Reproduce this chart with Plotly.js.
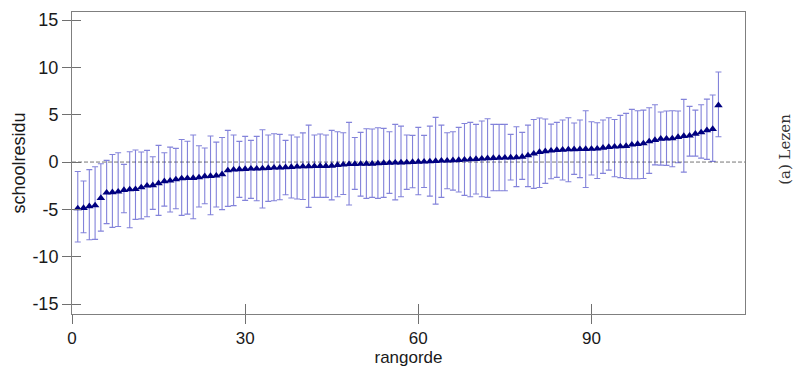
<!DOCTYPE html>
<html>
<head>
<meta charset="utf-8">
<script src="https://cdn.plot.ly/plotly-3.0.1.min.js"></script>
<style>
html,body{margin:0;padding:0;background:#fff;}
#chart{width:796px;height:368px;}
</style>
</head>
<body>
<div id="chart"></div>
<script>
// rank order of schools
var rangorde = [1,2,3,4,5,6,7,8,9,10,11,12,13,14,15,16,17,18,19,20,
21,22,23,24,25,26,27,28,29,30,31,32,33,34,35,36,37,38,39,40,
41,42,43,44,45,46,47,48,49,50,51,52,53,54,55,56,57,58,59,60,
61,62,63,64,65,66,67,68,69,70,71,72,73,74,75,76,77,78,79,80,
81,82,83,84,85,86,87,88,89,90,91,92,93,94,95,96,97,98,99,100,
101,102,103,104,105,106,107,108,109,110,111,112];

// school residual (point estimate)
var residu = [-4.9,-4.86,-4.68,-4.58,-3.8,-3.24,-3.2,-3.13,-2.96,-2.89,
-2.87,-2.68,-2.5,-2.46,-2.25,-2.04,-1.97,-1.83,-1.73,-1.7,
-1.69,-1.62,-1.51,-1.48,-1.44,-1.3,-0.88,-0.81,-0.77,-0.74,
-0.7,-0.7,-0.67,-0.63,-0.6,-0.6,-0.56,-0.53,-0.49,-0.46,
-0.45,-0.44,-0.43,-0.42,-0.4,-0.32,-0.28,-0.22,-0.21,-0.2,
-0.19,-0.18,-0.14,-0.1,-0.09,-0.07,-0.06,-0.04,0.0,0.03,
0.04,0.07,0.1,0.14,0.15,0.18,0.21,0.25,0.28,0.32,
0.35,0.39,0.42,0.43,0.46,0.47,0.49,0.56,0.7,0.88,
1.06,1.13,1.2,1.27,1.3,1.33,1.34,1.36,1.37,1.38,
1.41,1.51,1.58,1.62,1.65,1.69,1.83,1.9,1.97,2.18,
2.32,2.46,2.47,2.5,2.64,2.75,2.78,2.99,3.13,3.35,
3.49,5.99];

// upper bound of interval
var bovengrens = [-1.0,-2.0,-0.8,-0.5,-0.18,0.18,0.8,0.99,-0.25,1.09,
1.27,1.06,1.23,0.56,1.76,0.99,1.58,1.44,2.39,2.2,
2.85,1.73,1.48,2.75,2.11,2.6,3.35,2.85,2.18,2.71,
2.29,2.71,3.42,2.85,2.99,2.92,2.29,2.85,2.64,3.08,
3.9,2.85,2.96,2.85,3.35,3.2,3.1,4.19,2.6,3.13,
3.52,3.49,3.63,3.56,3.2,3.98,3.8,2.85,2.82,3.66,
2.82,3.8,4.72,3.9,3.1,3.2,3.66,4.08,4.19,3.98,
4.33,4.58,3.98,3.98,3.98,2.92,3.73,3.13,3.9,4.5,
4.65,4.54,4.01,4.19,4.44,4.68,4.12,4.44,5.42,4.26,
4.15,4.44,4.68,4.5,4.93,5.14,5.56,5.42,5.49,5.74,
6.05,5.28,5.39,5.42,5.39,6.62,5.88,5.49,6.06,6.65,
7.08,9.51];

// lower bound of interval
var ondergrens = [-8.45,-7.46,-8.2,-8.17,-7.3,-6.5,-6.9,-6.8,-5.35,-6.94,
-6.05,-6.0,-5.77,-5.0,-5.63,-4.65,-5.28,-4.93,-5.63,-5.5,
-5.99,-4.75,-4.4,-5.56,-4.75,-5.03,-4.68,-4.6,-3.73,-4.05,
-3.84,-4.08,-4.86,-4.15,-4.08,-3.98,-3.45,-3.8,-3.9,-3.96,
-4.79,-3.73,-3.73,-3.73,-4.0,-3.66,-3.42,-4.54,-2.89,-3.6,
-3.84,-3.73,-3.84,-3.73,-3.31,-4.0,-3.66,-2.89,-2.71,-3.45,
-2.68,-3.6,-4.44,-3.73,-2.82,-2.96,-3.17,-3.52,-3.66,-3.38,
-3.66,-3.73,-3.03,-3.03,-3.03,-1.9,-2.6,-1.83,-2.6,-2.78,
-2.68,-2.25,-1.76,-1.62,-1.9,-2.08,-1.3,-1.65,-2.68,-1.37,
-1.73,-1.2,-0.85,-1.55,-1.65,-1.73,-1.76,-1.76,-1.73,-1.2,
-0.3,-0.32,-0.35,-0.49,-0.07,-1.06,0.63,0.63,0.42,0.28,
0.07,2.68];

var xTicks = [0,30,60,90];
var yTicks = [-15,-10,-5,0,5,10,15];

var errPlus = bovengrens.map(function(u,i){return u - residu[i];});
var errMinus = ondergrens.map(function(l,i){return residu[i] - l;});

var xr = [0, 116.6];
var yr = [-16.05, 15.85];
var fontFam = 'Liberation Sans, Arial, sans-serif';

var traces = [
  {
    type:'scatter', mode:'markers',
    x: rangorde, y: residu,
    marker:{symbol:'triangle-up', size:7.5, color:'#000080'},
    error_y:{type:'data', symmetric:false, array:errPlus, arrayminus:errMinus,
             color:'rgba(55,55,195,0.62)', thickness:1.1, width:3},
    hoverinfo:'x+y', showlegend:false
  },
  {
    type:'scatter', mode:'markers', x:[], y:[], xaxis:'x2', yaxis:'y2',
    showlegend:false, hoverinfo:'skip'
  }
];

var layout = {
  width:796, height:368,
  margin:{l:72, r:51, t:12, b:54},
  paper_bgcolor:'#fff', plot_bgcolor:'#fff',
  showlegend:false,
  font:{family:fontFam, color:'#222'},
  xaxis:{
    range:xr, tickvals:xTicks, ticktext:xTicks.map(String),
    ticks:'outside', ticklen:9, tickwidth:1, tickcolor:'#707070',
    showline:true, linecolor:'#7f7f7f', linewidth:1, mirror:true,
    showgrid:false, zeroline:false,
    tickfont:{family:fontFam, size:17, color:'#1a1a1a'},
    title:{text:'rangorde', font:{family:fontFam, size:17, color:'#1a1a1a'}, standoff:3}
  },
  yaxis:{
    range:yr, tickvals:yTicks, ticktext:yTicks.map(String),
    ticks:'outside', ticklen:9, tickwidth:1, tickcolor:'#707070',
    showline:true, linecolor:'#7f7f7f', linewidth:1, mirror:true,
    showgrid:false, zeroline:false,
    tickfont:{family:fontFam, size:18, color:'#1a1a1a'},
    title:{text:'schoolresidu', font:{family:fontFam, size:18, color:'#1a1a1a'}, standoff:2}
  },
  xaxis2:{
    overlaying:'x', anchor:'y2', range:xr, tickvals:xTicks,
    ticks:'inside', ticklen:10, tickwidth:1, tickcolor:'#707070',
    showticklabels:false, showline:false, showgrid:false, zeroline:false
  },
  yaxis2:{
    overlaying:'y', anchor:'x2', range:yr, tickvals:yTicks,
    ticks:'inside', ticklen:9, tickwidth:1, tickcolor:'#707070',
    showticklabels:false, showline:false, showgrid:false, zeroline:false
  },
  shapes:[
    {type:'line', xref:'paper', yref:'y', x0:0, x1:1, y0:0, y1:0,
     line:{color:'#777', width:1, dash:'4px,2px'}, layer:'below'}
  ],
  annotations:[
    {text:'(a) Lezen', xref:'paper', yref:'paper', x:1.059, y:0.546,
     showarrow:false, textangle:-90, xanchor:'center', yanchor:'middle',
     font:{family:'DejaVu Serif, serif', size:15, color:'#333'}}
  ]
};

Plotly.newPlot('chart', traces, layout, {displayModeBar:false, staticPlot:true});
</script>
</body>
</html>
